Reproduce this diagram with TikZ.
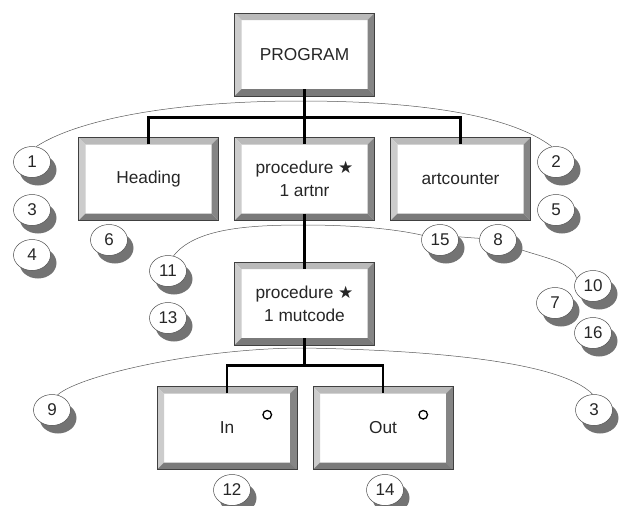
\documentclass[tikz,border=0pt]{standalone}
\usepackage{fontspec}
\setmainfont{Liberation Sans}
\newfontfamily\symfont{DejaVu Sans}
\usetikzlibrary{positioning,shapes.geometric,shadows,backgrounds}

\newcommand{\repstar}{{\symfont\fontsize{17}{17}\selectfont ★}}

\begin{document}
\begin{tikzpicture}[
        x=1pt, y=-1pt,
        node distance=41pt and 15.5pt,
        box/.style={rectangle, draw=black!75, line width=0.5pt, fill=white, align=center,
            minimum width=140pt, minimum height=83pt, inner sep=0pt,
            font=\fontsize{17.3}{23}\selectfont, text=black!85,
            path picture={
                \coordinate (nw) at (path picture bounding box.north west);
                \coordinate (ne) at (path picture bounding box.north east);
                \coordinate (sw) at (path picture bounding box.south west);
                \coordinate (se) at (path picture bounding box.south east);
                \fill[black!27] (nw) -- (ne) -- ([shift={(-7pt,-7pt)}]ne) -- ([shift={(7pt,-7pt)}]nw) -- cycle;
                \fill[black!20] (nw) -- (sw) -- ([shift={(7pt,7pt)}]sw) -- ([shift={(7pt,-7pt)}]nw) -- cycle;
                \fill[black!48] (ne) -- (se) -- ([shift={(-7pt,7pt)}]se) -- ([shift={(-7pt,-7pt)}]ne) -- cycle;
                \fill[black!52] (sw) -- (se) -- ([shift={(-7pt,7pt)}]se) -- ([shift={(7pt,7pt)}]sw) -- cycle;
            }},
        bubble/.style={ellipse, draw=black!70, line width=0.5pt, fill=white,
            minimum width=37pt, minimum height=31pt, inner sep=0pt,
            font=\fontsize{17}{17}\selectfont, text=black!85,
            drop shadow={shadow xshift=6pt, shadow yshift=-8pt, fill=black!55, opacity=1}},
        link/.style={line width=2.6pt, black},
        arc/.style={line width=0.5pt, black!65},
        optmark/.style={line width=1.3pt, black}
    ]
    \useasboundingbox (0,0) rectangle (624,506);

    % tree of boxes
    \node[box] (prog) at (304.5,54.5) {PROGRAM};
    \node[box, below=of prog] (artnr) {procedure \repstar\\1 artnr};
    \node[box, left=of artnr] (head) {Heading};
    \node[box, right=of artnr] (cnt) {artcounter};
    \node[box, below=of artnr] (mut) {procedure \repstar\\1 mutcode};
    \node[box, below=of mut, xshift=-77.5pt] (in) {In};
    \node[box, right=of in] (out) {Out};

    \draw[optmark] ([shift={(-30pt,-28.5pt)}]in.north east) circle (4.3pt);
    \draw[optmark] ([shift={(-30pt,-28.5pt)}]out.north east) circle (4.3pt);

    \coordinate[below=21.5pt of prog.south] (split);
    \coordinate[below=20.5pt of mut.south] (split2);

    \draw[link] ([yshift=7pt]prog.south) -- ([yshift=-7pt]artnr.north);
    \draw[link] ([yshift=-7pt]head.north) |- (split) -| ([yshift=-7pt]cnt.north);
    \draw[link] ([yshift=7pt]artnr.south) -- ([yshift=-7pt]mut.north);
    \draw[link] ([yshift=7pt]mut.south) -- (split2);
    \draw[link] ([yshift=-7pt]in.north) |- (split2) -| ([yshift=-7pt]out.north);

    % numbered bubbles
    \node[bubble] (b1) at (32,162) {1};
    \node[bubble] (b3) at (32,210) {3};
    \node[bubble] (b4) at (32,255) {4};
    \node[bubble] (b6) at (109,240) {6};
    \node[bubble] (b11) at (168,271) {11};
    \node[bubble] (b13) at (168,318) {13};
    \node[bubble] (b2) at (556,162) {2};
    \node[bubble] (b5) at (556,210) {5};
    \node[bubble] (b15) at (440,240) {15};
    \node[bubble] (b8) at (498,240) {8};
    \node[bubble] (b10) at (593,286) {10};
    \node[bubble] (b7) at (555,303) {7};
    \node[bubble] (b16) at (593,333) {16};
    \node[bubble] (b9) at (52,410) {9};
    \node[bubble] (b3r) at (594,410) {3};
    \node[bubble] (b12) at (232,490) {12};
    \node[bubble] (b14) at (385,490) {14};

    % thin arcs behind the bubbles
    \begin{scope}[on background layer]
        \draw[arc] (b1.75) .. controls (80,118) and (180,101) .. (300,101)
            .. controls (420,101) and (510,115) .. (b2.105);
        \draw[arc] (b11.70) .. controls (195,228) and (250,225) .. (304,225)
            .. controls (360,225) and (400,230) .. (b15.165);
        \draw[arc] (b15.10) -- (b8.175);
        \draw[arc] (b8.-25) .. controls (545,258) and (572,262) .. (b10.155);
        \draw[arc] (b9.70) .. controls (80,375) and (200,348) .. (304,348)
            .. controls (420,350) and (560,360) .. (b3r.95);
    \end{scope}
\end{tikzpicture}
\end{document}
